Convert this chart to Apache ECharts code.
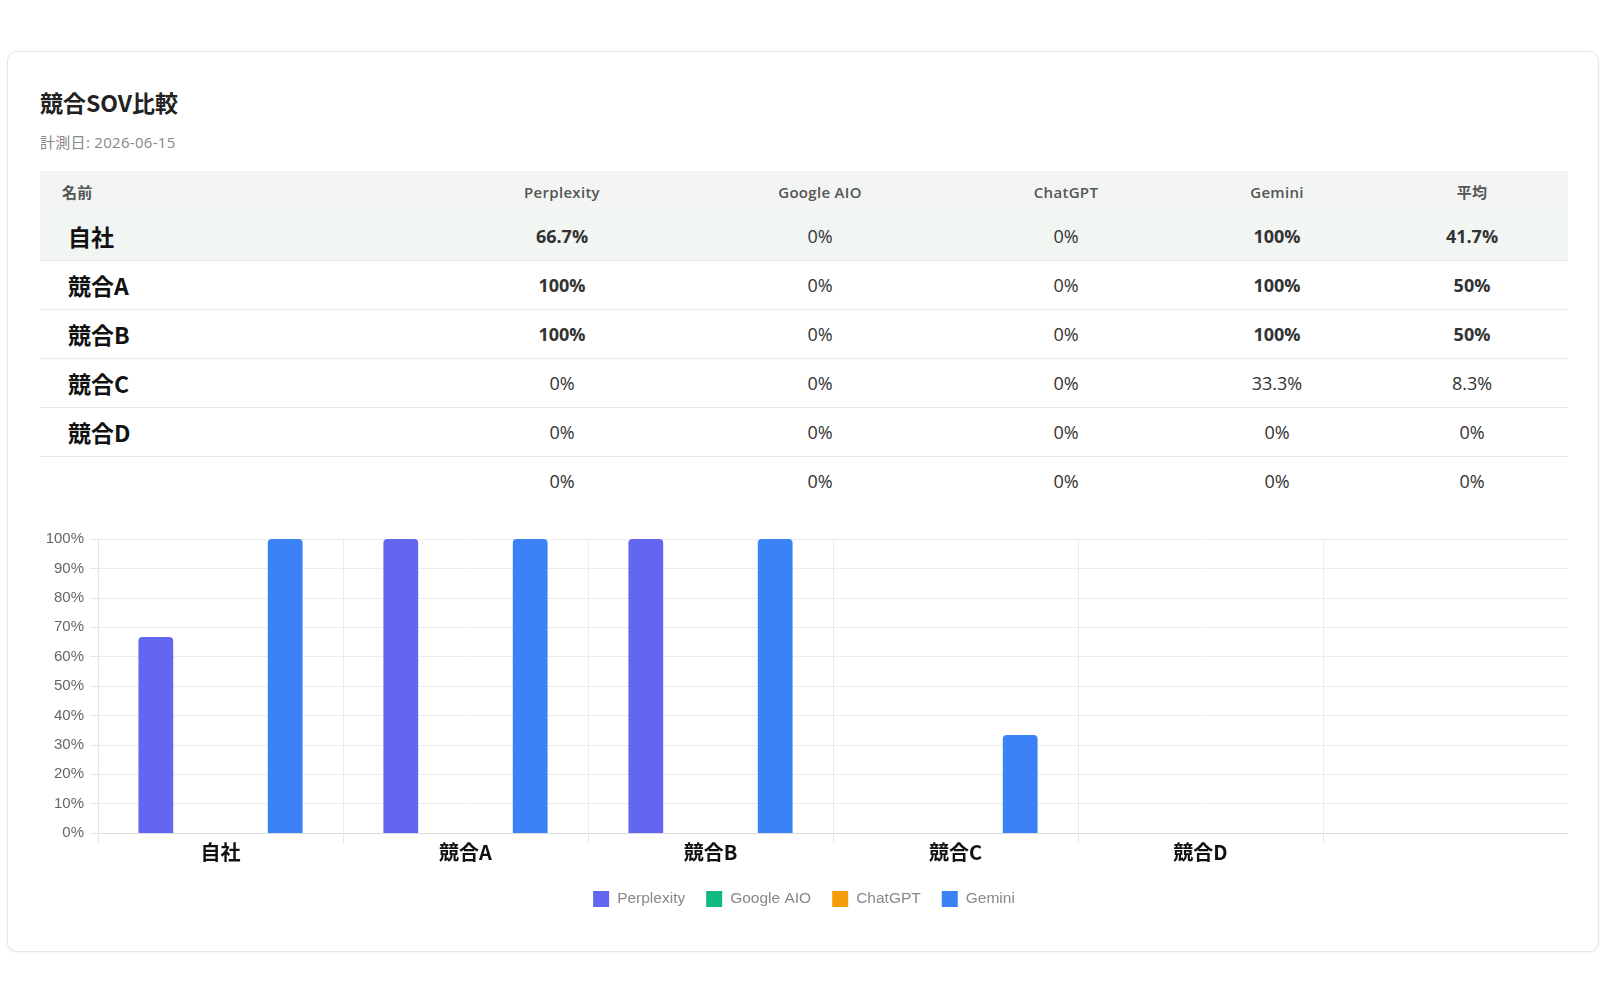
<!DOCTYPE html>
<html lang="ja">
<head>
<meta charset="utf-8">
<title>競合SOV比較</title>
<script src="https://cdn.jsdelivr.net/npm/echarts@6/dist/echarts.min.js"></script>
<style>
  html, body { margin: 0; padding: 0; background: #fff; }
  body { width: 1600px; height: 1000px; position: relative; overflow: hidden;
         font-family: "Open Sans", "Noto Sans CJK JP", sans-serif; }
  .card { position: absolute; left: 7px; top: 51px; width: 1592px; height: 901px;
          box-sizing: border-box; background: #fff; border: 1px solid #e4e8e6;
          border-radius: 10px; box-shadow: 0 1px 3px rgba(0,0,0,0.06); }
  .title { position: absolute; left: 32px; top: 35px; margin: 0; font-size: 23px; line-height: 30px;
           font-weight: 700; color: #222; font-family: "Noto Sans CJK JP", sans-serif; }
  .sub { position: absolute; left: 32px; top: 81px; font-size: 15px; line-height: 18px; color: #888;
         letter-spacing: 0.3px; }
  table { position: absolute; left: 32px; top: 119px; width: 1528px; border-collapse: collapse;
          table-layout: fixed; }
  th { height: 41px; background: #f2f5f3; font-size: 15px; font-weight: 600; color: #555;
       text-align: center; padding: 0; letter-spacing: 0.3px; }
  th.name { text-align: left; padding-left: 22px; font-family: "Noto Sans CJK JP", sans-serif; }
  td { height: 48px; border-bottom: 1px solid #e8ebea; text-align: center; font-size: 18px;
       color: #333; padding: 0; }
  tr:last-child td { border-bottom: none; }
  td.name { text-align: left; padding-left: 28px; font-size: 23px; font-weight: 700; color: #111;
            font-family: "Noto Sans CJK JP", sans-serif; }
  tr.own td { background: #f1f6f3; }
  td.b { font-weight: 700; }
  #chart { position: absolute; left: 32px; top: 450px; width: 1528px; height: 420px; }
</style>
</head>
<body>
<div class="card">
  <h2 class="title">競合SOV比較</h2>
  <div class="sub">計測日: 2026-06-15</div>
  <table id="tbl"></table>
  <div id="chart"></div>
</div>
<script>
// データ
var names = ['自社', '競合A', '競合B', '競合C', '競合D', ''];
var engines = ['Perplexity', 'Google AIO', 'ChatGPT', 'Gemini'];
var perplexity = [66.7, 100, 100, 0, 0, 0];
var googleAio = [0, 0, 0, 0, 0, 0];
var chatgpt = [0, 0, 0, 0, 0, 0];
var gemini = [100, 100, 100, 33.3, 0, 0];
var average = [41.7, 50, 50, 8.3, 0, 0];
var yTicks = [0, 10, 20, 30, 40, 50, 60, 70, 80, 90, 100];
var colors = ['#6366f1', '#10b981', '#f59e0b', '#3b82f6'];

var seriesData = [perplexity, googleAio, chatgpt, gemini];

// 表
function pct(v) { return v + '%'; }
var colW = [398, 248, 268, 224, 198, 192];
var html = '<colgroup>' + colW.map(function (w) { return '<col style="width:' + w + 'px">'; }).join('') + '</colgroup>';
html += '<tr><th class="name">名前</th>' + engines.map(function (e) { return '<th>' + e + '</th>'; }).join('') + '<th>平均</th></tr>';
names.forEach(function (n, i) {
  var vals = seriesData.map(function (s) { return s[i]; }).concat([average[i]]);
  html += '<tr' + (i === 0 ? ' class="own"' : '') + '><td class="name">' + n + '</td>';
  vals.forEach(function (v) {
    html += '<td' + (v >= 40 ? ' class="b"' : '') + '>' + pct(v) + '</td>';
  });
  html += '</tr>';
});
document.getElementById('tbl').innerHTML = html;

// グラフ
var chart = echarts.init(document.getElementById('chart'));
chart.setOption({
  animation: false,
  textStyle: { fontFamily: '"Liberation Sans", Arial, sans-serif' },
  color: colors,
  grid: { left: 58, right: 0, top: 37, bottom: 89 },
  legend: {
    data: engines,
    top: 384,
    left: 'center',
    icon: 'rect',
    itemWidth: 16,
    itemHeight: 16,
    itemGap: 21,
    textStyle: { color: '#888', fontSize: 15.5, padding: [0, 0, 0, 3] }
  },
  xAxis: {
    type: 'category',
    data: names,
    axisLine: { lineStyle: { color: '#dcdcdc' } },
    axisTick: { show: true, length: 10, lineStyle: { color: '#e6e6e6' } },
    splitLine: { show: true, lineStyle: { color: '#ececec' } },
    axisLabel: {
      margin: 9, color: '#111', fontSize: 20, fontWeight: 'bold',
      fontFamily: '"Noto Sans CJK JP", sans-serif'
    }
  },
  yAxis: {
    type: 'value',
    min: yTicks[0],
    max: yTicks[yTicks.length - 1],
    interval: yTicks[1] - yTicks[0],
    axisLine: { show: true, lineStyle: { color: '#e6e6e6' } },
    axisTick: { show: true, length: 8, lineStyle: { color: '#e6e6e6' } },
    splitLine: { lineStyle: { color: '#ececec' } },
    axisLabel: { formatter: '{value}%', color: '#666', fontSize: 15, margin: 14 }
  },
  series: engines.map(function (e, k) {
    return {
      name: e,
      type: 'bar',
      data: seriesData[k],
      barGap: '24%',
      barCategoryGap: '33%',
      itemStyle: { borderRadius: [4, 4, 0, 0] }
    };
  })
});
</script>
</body>
</html>
